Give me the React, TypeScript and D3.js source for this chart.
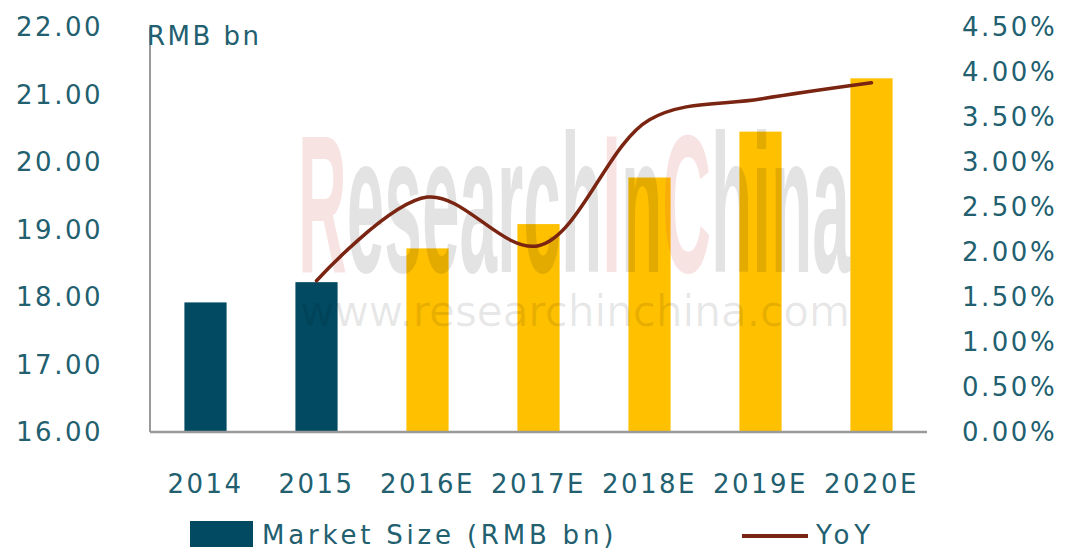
import React, { useLayoutEffect, useRef, useState } from "react";
import * as d3 from "d3";

const categories = ["2014", "2015", "2016E", "2017E", "2018E", "2019E", "2020E"];
const marketSize = [17.92, 18.22, 18.72, 19.08, 19.77, 20.45, 21.24];
const yoyPct: (number | null)[] = [null, 1.68, 2.61, 2.07, 3.47, 3.70, 3.88];
const isEstimate = [false, false, true, true, true, true, true];
const leftTicks = [16, 17, 18, 19, 20, 21, 22];
const rightTicks = [0, 0.5, 1, 1.5, 2, 2.5, 3, 3.5, 4, 4.5];
const watermarkParts = [
  { t: "R", pink: true },
  { t: "esearch", pink: false },
  { t: "I", pink: true },
  { t: "n", pink: false },
  { t: "C", pink: true },
  { t: "hina", pink: false },
];

const W = 1068;
const H = 551;
const X0 = 150, X1 = 927, Y0 = 432, Y1 = 27;
const TEXT = "#22606f";
const FONT = "'DejaVu Sans', Verdana, sans-serif";
const TEAL = "#024a62";
const YELLOW = "#ffc000";
const LINE = "#7a2412";

export default function App() {
  const wmRef = useRef<SVGTextElement>(null);
  const urlRef = useRef<SVGTextElement>(null);
  const [wmScale, setWmScale] = useState(1);
  const [urlScale, setUrlScale] = useState(1);
  useLayoutEffect(() => {
    if (wmRef.current) {
      const len = wmRef.current.getComputedTextLength();
      if (len > 0) setWmScale(552 / len);
    }
    if (urlRef.current) {
      const len = urlRef.current.getComputedTextLength();
      if (len > 0) setUrlScale(550 / len);
    }
  }, []);

  const x = d3.scaleBand<string>().domain(categories).range([X0, X1]).paddingInner(0.62).paddingOuter(0.31);
  const yL = d3.scaleLinear().domain([16, 22]).range([Y0, Y1]);
  const yR = d3.scaleLinear().domain([0, 4.5]).range([Y0, Y1]);
  const pts: [number, number][] = [];
  yoyPct.forEach((v, i) => {
    if (v !== null) pts.push([(x(categories[i]) as number) + x.bandwidth() / 2, yR(v)]);
  });
  const lineGen = d3.line().curve(d3.curveCatmullRom.alpha(0.5));
  const fs = 26;
  const ls = 2.5;
  return (
    <svg width={W} height={H} style={{ position: "absolute", left: 0, top: 0, background: "#fff" }} fontFamily={FONT}>
      <rect x={0} y={0} width={W} height={H} fill="#fff" />
      {categories.map((c, i) => (
        <rect key={c} x={x(c)} y={yL(marketSize[i])} width={x.bandwidth()} height={Y0 - yL(marketSize[i])}
          fill={isEstimate[i] ? YELLOW : TEAL} />
      ))}
      {/* watermark */}
      <text ref={wmRef} x={0} y={0} transform={`translate(298,272) scale(${wmScale},1)`}
        fontFamily="'Liberation Sans Narrow', 'Liberation Sans', sans-serif" fontWeight="bold" fontSize={196}>
        {watermarkParts.map((p) => (
          <tspan key={p.t} fill={p.pink ? "#d03a3a" : "#000"} fillOpacity={p.pink ? 0.14 : 0.11}>{p.t}</tspan>
        ))}
      </text>
      <text ref={urlRef} x={0} y={0} transform={`translate(300,326) scale(${urlScale},1)`} fontSize={42} fill="#000"
        fillOpacity={0.09}>
        www.researchinchina.com
      </text>
      <path d={lineGen(pts) || ""} fill="none" stroke={LINE} strokeWidth={3.5} strokeLinecap="round" />
      {/* axes */}
      <line x1={X0} y1={Y1} x2={X0} y2={Y0} stroke="#9a9a9a" strokeWidth={2} />
      <line x1={X0} y1={Y0} x2={X1} y2={Y0} stroke="#9a9a9a" strokeWidth={2.5} />
      {leftTicks.map((t) => (
        <text key={t} x={103} y={yL(t)} dy="0.36em" textAnchor="end" fontSize={fs} letterSpacing={ls} fill={TEXT}>
          {t.toFixed(2)}
        </text>
      ))}
      {rightTicks.map((t) => (
        <text key={t} x={962} y={yR(t)} dy="0.36em" textAnchor="start" fontSize={fs} letterSpacing={ls} fill={TEXT}>
          {t.toFixed(2) + "%"}
        </text>
      ))}
      {categories.map((c) => (
        <text key={c} x={(x(c) as number) + x.bandwidth() / 2} y={484} dy="0.36em" textAnchor="middle" fontSize={fs}
          letterSpacing={ls} fill={TEXT}>
          {c}
        </text>
      ))}
      <text x={147} y={36} dy="0.36em" fontSize={fs} letterSpacing={ls} fill={TEXT}>RMB bn</text>
      {/* legend */}
      <rect x={190} y={521} width={63} height={26} fill={TEAL} />
      <text x={262} y={535} dy="0.36em" fontSize={fs} fill={TEXT} letterSpacing={3.8}>
        Market Size (RMB  bn)
      </text>
      <line x1={742} y1={536} x2={808} y2={536} stroke={LINE} strokeWidth={4} />
      <text x={816} y={535} dy="0.36em" fontSize={fs} fill={TEXT} letterSpacing={5}>YoY</text>
    </svg>
  );
}
